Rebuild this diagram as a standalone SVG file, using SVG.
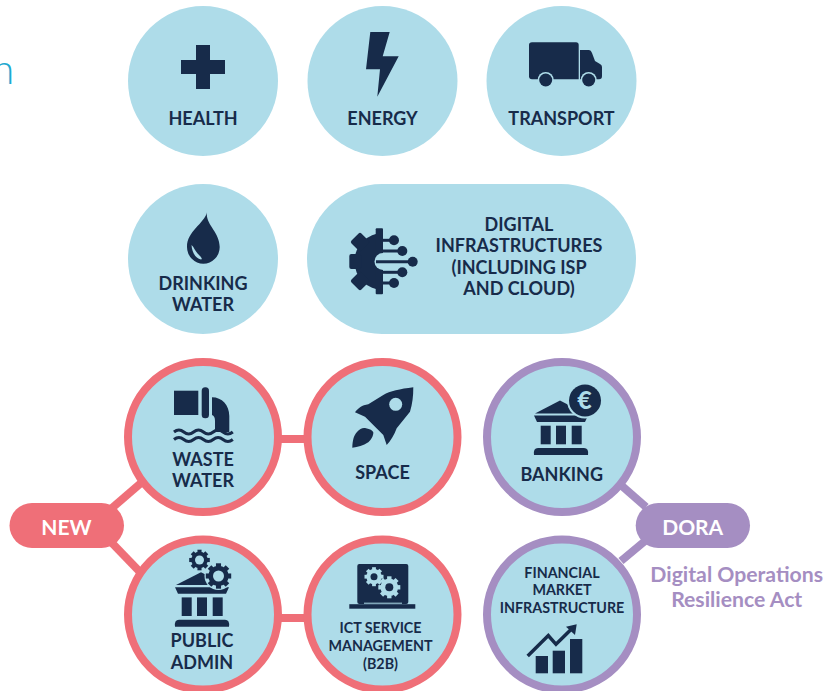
<svg xmlns="http://www.w3.org/2000/svg" xmlns:xlink="http://www.w3.org/1999/xlink" width="830" height="691" viewBox="0 0 830 691">
<style>
text{font-family:Lato,"Open Sans","Liberation Sans",sans-serif;font-weight:700;text-anchor:middle}
.l{font-size:18px;fill:#172b4a}
.s{font-size:14.3px;fill:#172b4a}
.w{font-size:21px;fill:#fff}
.p{font-size:21.2px;fill:#a58ec2}
.bg{fill:#aedce9}
.d{fill:#172b4a}
.red{fill:#aedce9;stroke:#ef6f78;stroke-width:8}
.pur{fill:#aedce9;stroke:#a58ec2;stroke-width:8}
.cr{stroke:#ef6f78;stroke-width:8;fill:none}
.cp{stroke:#a58ec2;stroke-width:8;fill:none}
.ln{stroke:#172b4a;fill:none;stroke-width:3}
</style>
<defs>
<g id="gear">
<circle r="0.8"/>
<rect x="-0.2" y="-1" width="0.4" height="2"/>
<rect x="-0.2" y="-1" width="0.4" height="2" transform="rotate(45)"/>
<rect x="-0.2" y="-1" width="0.4" height="2" transform="rotate(90)"/>
<rect x="-0.2" y="-1" width="0.4" height="2" transform="rotate(135)"/>
</g>
<g id="bank">
<path d="M0,13.4 L25,0.5 L50,13.4Z"/>
<path d="M-1,15.500 H53 L50,22 H2Z"/>
<rect x="5.700" y="25.700" width="10" height="18.600"/>
<rect x="21" y="25.700" width="10" height="18.600"/>
<rect x="36.700" y="25.700" width="10" height="18.600"/>
<path d="M-1,55 Q-2,48 3,48 H49 Q54,48 53,55Z"/>
</g>
</defs>

<g id="connectors">
<path class="cr" d="M112,508 L141,483"/>
<path class="cr" d="M112,543 L139,571"/>
<path class="cr" d="M280,439 H306"/>
<path class="cr" d="M280,618 H306"/>
<path class="cp" d="M622,486 L646,507"/>
<path class="cp" d="M621,561 L645,541"/>
</g>

<g id="cut-title"><text x="3" y="84" style="font-size:41px;font-weight:300;fill:#1fa9d0">n</text></g>

<g id="health">
<circle class="bg" cx="203" cy="81" r="75"/>
<path class="d" d="M196,45 H210 V60 H225 V74 H210 V89 H196 V74 H181 V60 H196Z"/>
<text class="l" x="203" y="125">HEALTH</text>
</g>

<g id="energy">
<circle class="bg" cx="382.500" cy="81" r="75"/>
<path class="d" d="M370.300,32 H389.700 L382.700,56.300 H398.700 L377.300,96.700 L380,69.300 H366Z"/>
<text class="l" x="382.500" y="125">ENERGY</text>
</g>

<g id="transport">
<circle class="bg" cx="561.500" cy="81" r="75"/>
<path class="d" d="M532,42.300 H576 Q578.700,42.300 578.700,45 V79.300 H532 Q529,79.300 529,76.300 V45 Q529,42.300 532,42.300Z"/>
<path class="d" d="M580,50 H589 Q591,50 592,53 L595,61 L600,64 Q602,65 602,67 V76 Q602,79.300 599,79.300 H580Z"/>
<circle class="bg" cx="545.700" cy="80" r="8"/>
<circle class="bg" cx="588.700" cy="80" r="8"/>
<circle class="d" cx="545.700" cy="80" r="6.500"/>
<circle class="d" cx="588.700" cy="80" r="6.500"/>
<text class="l" x="561.500" y="125">TRANSPORT</text>
</g>

<g id="drinking-water">
<circle class="bg" cx="203" cy="259" r="75"/>
<path class="d" d="M207,212.300 C205,224 219.700,232 219.700,247 A16.300,16.700 0 0 1 187,247 C187,231 204,224 207,212.300Z"/>
<path class="bg" d="M191.500,245 C192,252 195,258 201,259.500 C203,259.500 201,256.500 198,254 C195,251 194,247 191.500,245Z"/>
<text class="l" x="203" y="290">DRINKING</text>
<text class="l" x="203" y="311">WATER</text>
</g>

<g id="digital-infrastructures">
<rect class="bg" x="307" y="184" width="329" height="150" rx="75"/>
<path class="d" d="M383,233 A28.500,28.500 0 0 0 383,290Z"/>
<rect class="d" x="375.700" y="228.300" width="7.300" height="66" rx="1"/>
<rect class="d" x="349.300" y="254" width="12" height="15" rx="2"/>
<rect class="d" x="353" y="235" width="14" height="14" rx="2" transform="rotate(45 360 242)"/>
<rect class="d" x="353" y="274" width="14" height="14" rx="2" transform="rotate(-45 360 281)"/>
<path class="bg" d="M383,253 A8.500,8.500 0 0 0 383,270Z"/>
<path class="ln" d="M383,240.300 H394"/>
<path class="ln" d="M382,251 H402.300"/>
<path class="ln" d="M376,261.700 H412"/>
<path class="ln" d="M382,272.300 H402.300"/>
<path class="ln" d="M383,283 H394"/>
<circle class="d" cx="394" cy="240.300" r="5"/>
<circle class="d" cx="402.300" cy="251" r="5"/>
<circle class="d" cx="412.700" cy="261.700" r="5"/>
<circle class="d" cx="402.300" cy="272.300" r="5"/>
<circle class="d" cx="394" cy="283" r="5"/>
<text class="l" x="519" y="231">DIGITAL</text>
<text class="l" x="519" y="252">INFRASTRUCTURES</text>
<text class="l" x="519" y="274">(INCLUDING ISP</text>
<text class="l" x="519" y="295">AND CLOUD)</text>
</g>

<g id="waste-water">
<circle class="red" cx="203" cy="437" r="75"/>
<rect class="d" x="174" y="390.700" width="24.300" height="24.300"/>
<rect class="d" x="201.700" y="387.300" width="7.300" height="31" rx="3.500"/>
<path class="d" d="M212,397.300 C222,397.300 229.300,405 229.300,416 V432 H215 V421 Q215,416 212,415Z"/>
<path class="ln" d="M174,432 q4.900,-4 9.800,0 t9.800,0 t9.800,0 t9.800,0 t9.800,0 t9.800,0"/>
<path class="ln" d="M174,439.500 q4.900,-4 9.800,0 t9.800,0 t9.800,0 t9.800,0 t9.800,0 t9.800,0"/>
<text class="l" x="203" y="466">WASTE</text>
<text class="l" x="203" y="487">WATER</text>
</g>

<g id="space">
<circle class="red" cx="382.500" cy="437" r="75"/>
<path class="d" d="M413.300,387.300 C400,389 390,391 383.300,395 L368.300,404.300 C362,405 358,408.500 355,412.300 L365,416.700 L383.300,435 L386.700,445 C391,441 394,435 396.700,428.300 L410,411.700 C412.500,404 413.300,396 413.300,387.300Z"/>
<circle class="bg" cx="395.700" cy="404.300" r="6.500"/>
<path class="d" d="M352.300,447.700 C352.500,440 354,435 357,432 C360,428.500 363,427.500 366,428.300 C370,429 372.500,430.500 373.300,432.300 C373.500,436 371,440 368.300,442.300 C363,446 358,447 352.300,447.700Z"/>
<text class="l" x="382.500" y="479">SPACE</text>
</g>

<g id="banking">
<circle class="pur" cx="562" cy="437" r="75"/>
<use xlink:href="#bank" href="#bank" class="d" x="535" y="400"/>
<circle class="bg" cx="585" cy="400.500" r="18"/>
<circle class="d" cx="585" cy="400.500" r="16"/>
<text x="584.500" y="409" style="font-size:25px;font-weight:900;fill:#aedce9">€</text>
<text class="l" x="561.700" y="481">BANKING</text>
</g>

<g id="public-admin">
<circle class="red" cx="203" cy="614.500" r="75"/>
<use xlink:href="#bank" href="#bank" class="d" x="176" y="571.700"/>
<circle class="bg" cx="218.500" cy="576" r="14"/>
<use xlink:href="#gear" href="#gear" class="d" transform="translate(199.500 560) scale(10.300)"/>
<circle class="bg" cx="199.500" cy="560" r="4.500"/>
<use xlink:href="#gear" href="#gear" class="d" transform="translate(218.500 576) scale(12.700)"/>
<circle class="bg" cx="218.500" cy="576" r="5.500"/>
<text class="l" x="202" y="647">PUBLIC</text>
<text class="l" x="202" y="669">ADMIN</text>
</g>

<g id="ict-service-management">
<circle class="red" cx="382.500" cy="614.500" r="75"/>
<rect class="d" x="357.300" y="564" width="51" height="40" rx="2"/>
<rect class="d" x="349.300" y="604.200" width="66" height="4.500"/>
<rect class="bg" x="364" y="602.700" width="38" height="1"/>
<use xlink:href="#gear" href="#gear" class="bg" transform="translate(374 576.700) scale(9.500)"/>
<circle class="d" cx="374" cy="576.700" r="3.500"/>
<use xlink:href="#gear" href="#gear" class="bg" transform="translate(389.300 587.300) scale(11)"/>
<circle class="d" cx="389.300" cy="587.300" r="4"/>
<text class="s" x="380.500" y="633">ICT SERVICE</text>
<text class="s" x="380.500" y="651">MANAGEMENT</text>
<text class="s" x="380.500" y="669">(B2B)</text>
</g>

<g id="financial-market-infrastructure">
<circle class="pur" cx="562" cy="614.500" r="75"/>
<text class="s" x="562" y="578">FINANCIAL</text>
<text class="s" x="562" y="595">MARKET</text>
<text class="s" x="562" y="612.700">INFRASTRUCTURE</text>
<rect class="d" x="535.700" y="656" width="12.300" height="17.300"/>
<rect class="d" x="552.700" y="650.700" width="12.300" height="22.600"/>
<rect class="d" x="570" y="639" width="12.300" height="34.300"/>
<path class="ln" style="stroke-width:3.500" d="M527.700,656 L548.300,635.500 L556,644.300 L573.300,627.300"/>
<path class="d" d="M566,626.700 L576.700,624.300 L575,635Z"/>
</g>

<g id="new">
<rect x="9.500" y="503" width="114.500" height="45" rx="22.500" fill="#ef6f78"/>
<text class="w" x="66.500" y="534.500">NEW</text>
</g>

<g id="dora">
<rect x="635.700" y="503" width="114.300" height="45" rx="22.500" fill="#a58ec2"/>
<text class="w" x="692.700" y="534.500">DORA</text>
</g>

<g id="dora-caption">
<text class="p" x="736.700" y="581.500">Digital Operations</text>
<text class="p" x="736.700" y="606.500">Resilience Act</text>
</g>
</svg>
